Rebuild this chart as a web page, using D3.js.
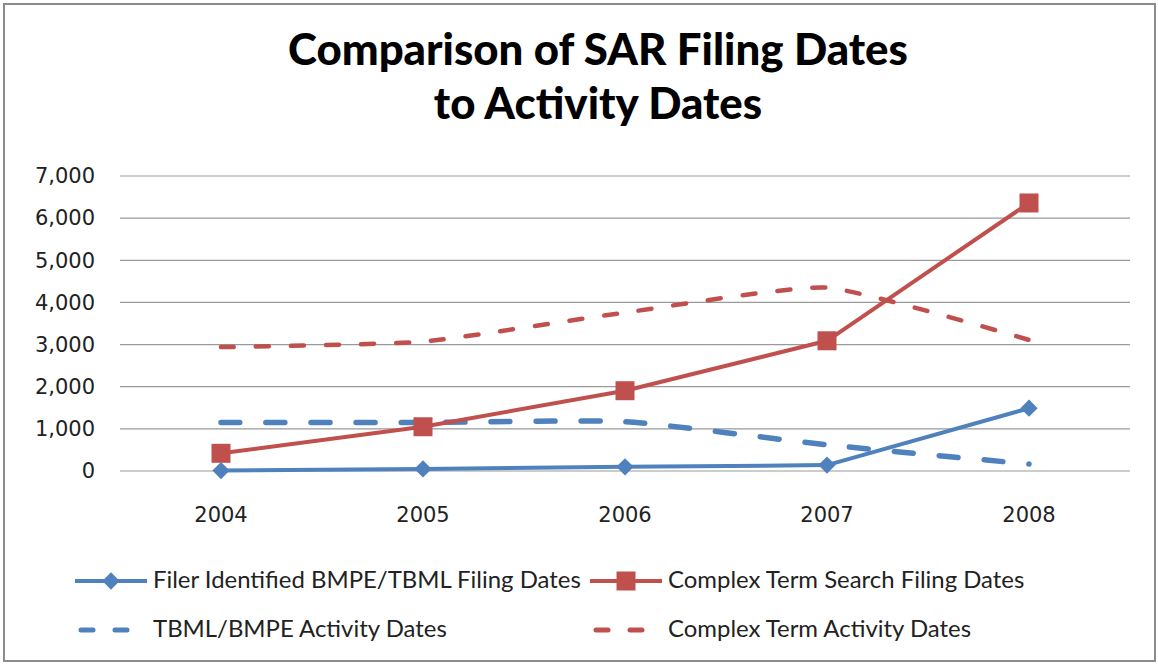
<!DOCTYPE html>
<html><head><meta charset="utf-8">
<script src="https://cdn.jsdelivr.net/npm/d3@7"></script>
<style>body{margin:0;background:#fff}svg{display:block}</style>
</head><body>
<svg id="c" width="1158" height="664"></svg>
<script>
const years = ["2004","2005","2006","2007","2008"];
const filerFiling = [10, 50, 100, 140, 1490];
const complexFiling = [420, 1050, 1905, 3090, 6360];
const tbmlActivity = [1150, 1150, 1170, 620, 165];
const complexActivity = [2940, 3070, 3760, 4350, 3110];
const yTicks = [0,1000,2000,3000,4000,5000,6000,7000];
const titleLines = ["Comparison of SAR Filing Dates","to Activity Dates"];

const series = [
  {name:"Filer Identified BMPE/TBML Filing Dates", values:filerFiling, color:"#4F81BD", dash:null, marker:"diamond", width:4, smooth:false},
  {name:"Complex Term Search Filing Dates", values:complexFiling, color:"#C0504D", dash:null, marker:"square", width:4, smooth:false},
  {name:"TBML/BMPE Activity Dates", values:tbmlActivity, color:"#4F81BD", dash:"19,26", marker:null, width:5.5, smooth:true},
  {name:"Complex Term Activity Dates", values:complexActivity, color:"#C0504D", dash:"13,22", marker:null, width:4.5, smooth:true}
];

const svg = d3.select("#c");
svg.append("rect").attr("x",4).attr("y",4).attr("width",1151).attr("height",657)
  .attr("fill","#fff").attr("stroke","#8c8c8c").attr("stroke-width",2);

const L=120,R=1130,T=176,B=471;
const x = d3.scaleBand().domain(years).range([L,R]);
const y = d3.scaleLinear().domain([0,7000]).range([B,T]);

// gridlines
svg.append("g").selectAll("line").data(yTicks).join("line")
  .attr("x1",L).attr("x2",R).attr("y1",d=>y(d)).attr("y2",d=>y(d))
  .attr("stroke","#9a9a9a").attr("stroke-width",1.2);

// y axis
const yAxis = svg.append("g").attr("transform",`translate(${L},0)`)
  .call(d3.axisLeft(y).tickValues(yTicks).tickFormat(d3.format(",")).tickSize(0).tickPadding(25));
yAxis.select(".domain").remove();
yAxis.selectAll("text").attr("font-family","DejaVu Sans").attr("font-size",21).attr("fill","#222");

// x axis
const xAxis = svg.append("g").attr("transform",`translate(0,${B})`)
  .call(d3.axisBottom(x).tickSize(0).tickPadding(36));
xAxis.select(".domain").remove();
xAxis.selectAll("text").attr("font-family","DejaVu Sans").attr("font-size",21).attr("fill","#222");

const cx = d => x(d)+x.bandwidth()/2;

// lines: dashed ones drawn first
const order = [3,2,0,1];
order.forEach(i=>{
  const s = series[i];
  const line = d3.line().x((d,j)=>cx(years[j])).y(d=>y(d))
    .curve(s.smooth ? d3.curveCardinal.tension(0.5) : d3.curveLinear);
  svg.append("path").datum(s.values).attr("d",line)
    .attr("fill","none").attr("stroke",s.color).attr("stroke-width",s.width)
    .attr("stroke-dasharray",s.dash).attr("stroke-linecap",s.dash?"round":"butt")
    .attr("stroke-linejoin","round");
  if(s.marker==="diamond"){
    svg.append("g").selectAll("path").data(s.values).join("path")
      .attr("transform",(d,j)=>`translate(${cx(years[j])},${y(d)})`)
      .attr("d",d3.symbol(d3.symbolDiamond2,190)).attr("fill",s.color);
  } else if(s.marker==="square"){
    svg.append("g").selectAll("rect").data(s.values).join("rect")
      .attr("x",(d,j)=>cx(years[j])-9.5).attr("y",d=>y(d)-9.5)
      .attr("width",19).attr("height",19).attr("fill",s.color);
  }
});

// title
const title = svg.append("g");
titleLines.forEach((t,i)=>{
  title.append("text").attr("x",598).attr("y",65+i*54).attr("text-anchor","middle")
    .attr("font-family","Lato").attr("font-weight","900").attr("font-size",36)
    .attr("fill","#000").text(t);
});
const t0 = title.select("text").node();
const w0 = t0.getComputedTextLength();
title.selectAll("text").attr("font-size",36*620/w0);

// legend
const legPos = [[75,581],[590,581],[75,630],[590,630]];
const legText = [];
series.forEach((s,i)=>{
  const [lx,ly] = legPos[i];
  const g = svg.append("g");
  g.append("line").attr("x1",lx).attr("x2",lx+72).attr("y1",ly).attr("y2",ly)
    .attr("stroke",s.color).attr("stroke-width",s.dash?5:4)
    .attr("stroke-dasharray",s.dash?"12,22":null).attr("stroke-dashoffset",s.dash?-6:0)
    .attr("stroke-linecap",s.dash?"round":"butt");
  if(s.marker==="diamond"){
    g.append("path").attr("transform",`translate(${lx+36},${ly})`)
      .attr("d",d3.symbol(d3.symbolDiamond2,190)).attr("fill",s.color);
  } else if(s.marker==="square"){
    g.append("rect").attr("x",lx+36-9.5).attr("y",ly-9.5).attr("width",19).attr("height",19).attr("fill",s.color);
  }
  const tx = g.append("text").attr("x",lx+78).attr("y",ly+7).attr("font-family","Lato")
    .attr("font-size",20).attr("fill","#222").text(s.name);
  legText.push(tx);
});
const lw = legText[0].node().getComputedTextLength();
legText.forEach(t=>t.attr("font-size",20*428/lw));
</script>
</body></html>
